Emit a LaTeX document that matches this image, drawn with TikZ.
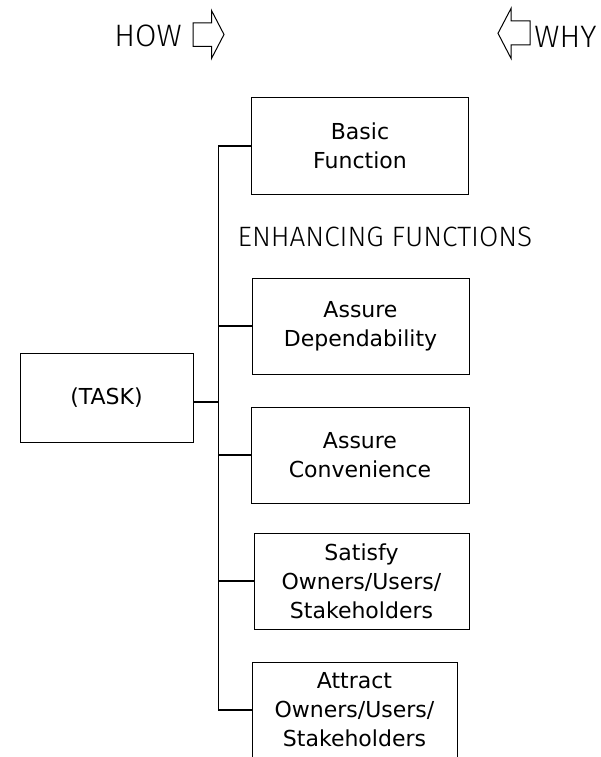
\documentclass[tikz,border=0pt]{standalone}
\usepackage{fontspec}
\setmainfont{DejaVu Sans}
\newfontfamily\handfont[UprightFont={* Light}]{Fira Sans}
\usepackage{tikz}
\usetikzlibrary{
    calc,
    positioning
}

\begin{document}
\begin{tikzpicture}[x=1pt, y=-1pt,
    box/.style={draw, line width=1pt, minimum width=217pt, minimum height=96pt,
        align=center, inner sep=0pt, font=\fontsize{22}{29}\selectfont},
    branch/.style={line width=2pt},
    hand/.style={inner sep=0pt, font=\handfont\fontsize{28}{30}\selectfont}]
                        \useasboundingbox (0,0) rectangle (600,757);
                        % headings
                        \node[hand, font=\handfont\fontsize{31}{32}\selectfont] (how) at (148,35.5) {HOW};
                        \node[hand, font=\handfont\fontsize{31}{32}\selectfont] (why) at (565.5,37) {WHY};
                        \node[hand] (enh) at (385,237) {ENHANCING FUNCTIONS};
                        \draw[line width=1pt] (193,23) -- (211.5,23) -- (211.5,10.5) -- (224,34.5)
                        -- (211.5,58.5) -- (211.5,46.5) -- (193,46.5) -- cycle;
                        \draw[line width=1pt] (530,21) -- (511,21) -- (511,8.5) -- (498,33.3)
                        -- (511,58.3) -- (511,45) -- (530,45) -- cycle;
                        % boxes
                        \node[box, minimum width=173pt, minimum height=89pt] (task) at (106.5,398) {(TASK)};
                        \node[box] (basic) at (360,146) {Basic\\Function};
                        \node[box] (dep) at (360.5,326) {Assure\\Dependability};
                        \node[box, minimum width=218pt] (conv) at (360,455) {Assure\\Convenience};
                        \node[box, minimum width=215pt] (sat) at (361.5,581) {Satisfy\\Owners/Users/\\Stakeholders};
                        \node[box, minimum width=205pt] (attr) at (354.5,710) {Attract\\Owners/Users/\\Stakeholders};
                        % tree lines
                        \coordinate (top) at (218,146);
                        \coordinate (bot) at (218,710);
                        \draw[line width=1pt] (top) -- (bot);
                        \draw[branch]
                        (basic.west) -- (top)
                        (dep.west) -- (dep.west -| top)
                        (conv.west) -- (conv.west -| top)
                        (sat.west) -- (sat.west -| top)
                        (attr.west) -- (bot)
                        ([yshift=-4pt]task.east) -- ([yshift=-4pt]task.east -| top);
                    \end{tikzpicture}
\end{document}
